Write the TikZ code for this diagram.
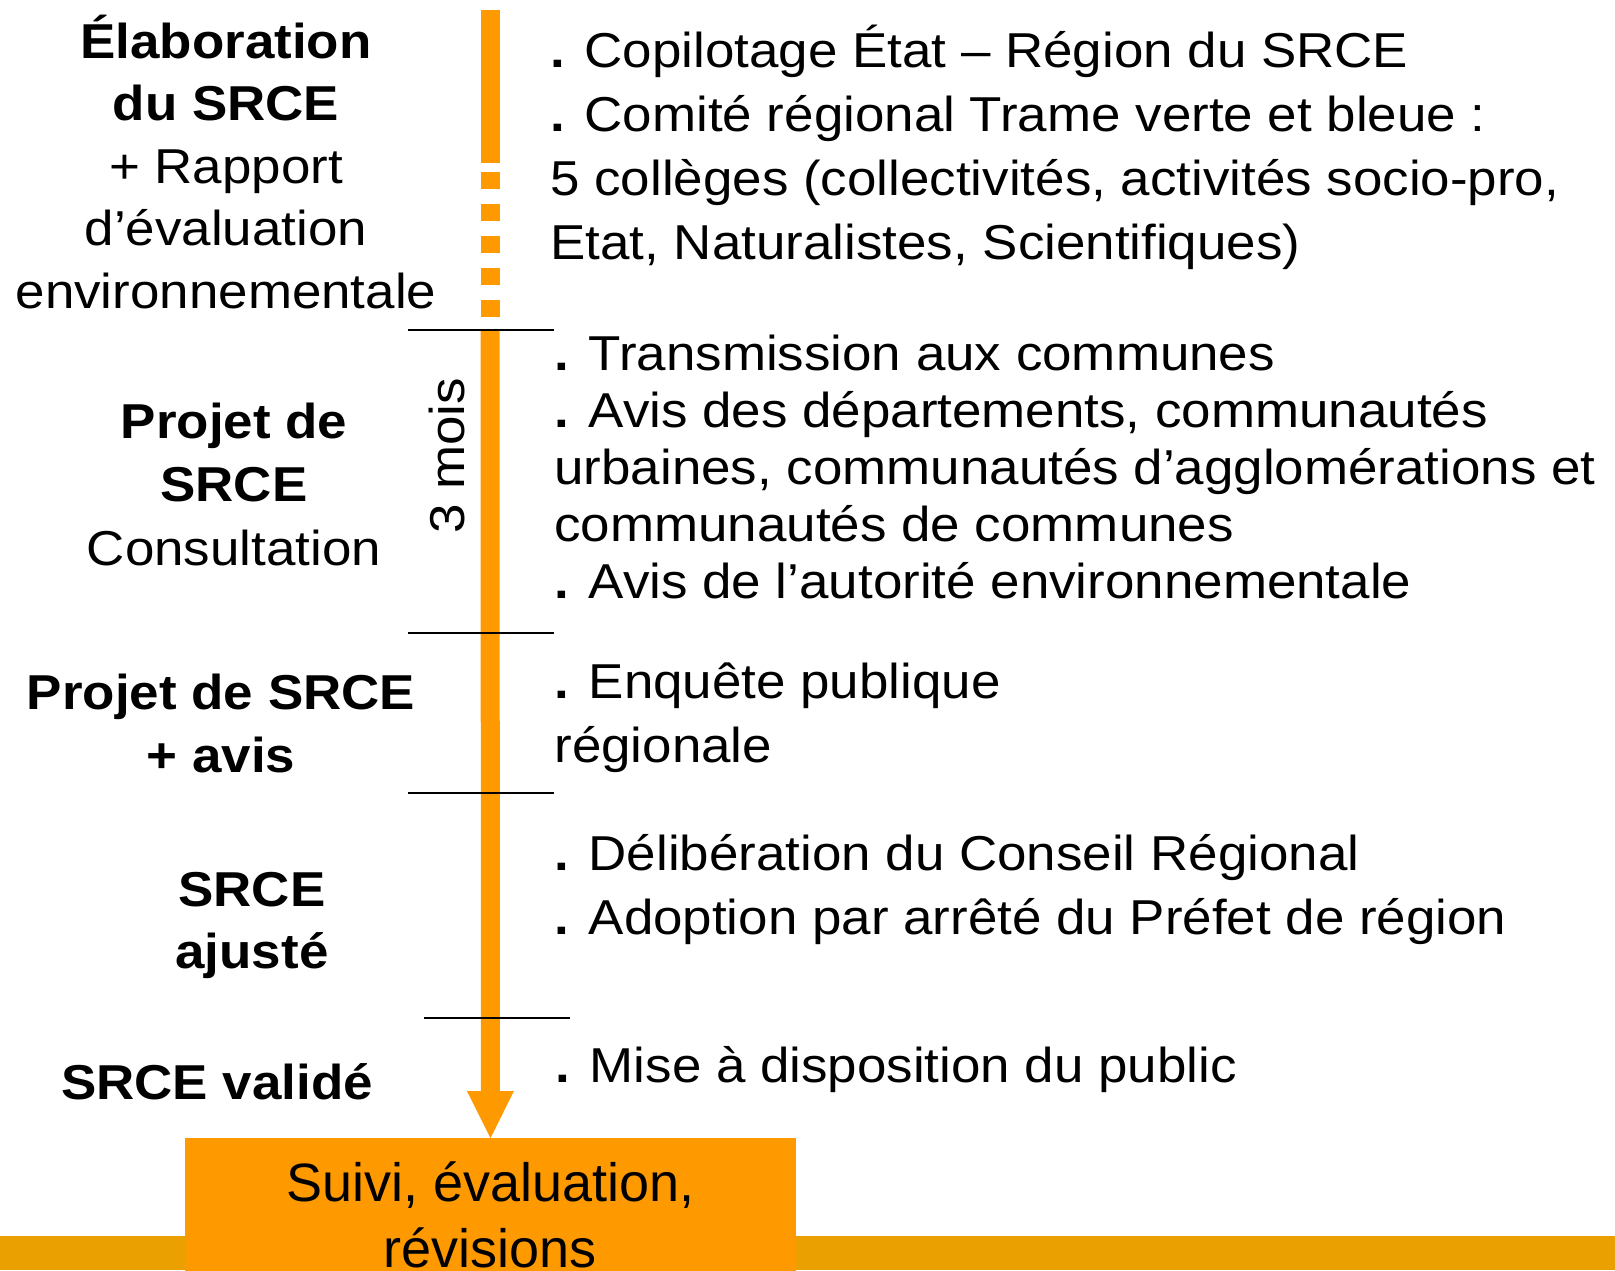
\documentclass[tikz,border=0pt]{standalone}
\usepackage{fontspec}
\setmainfont[FakeStretch=1.08]{Liberation Sans}
\newfontfamily\boxfont{Liberation Sans}
\usetikzlibrary{arrows.meta}
\definecolor{srceorange}{RGB}{255,153,0}
\definecolor{srcebar}{RGB}{234,160,0}
\newcommand\topst{\rule{0pt}{24pt}}
\newcommand\pt{\textbf{.}}
\tikzset{
  tl/.style={line width=9.5pt,srceorange},
  sepline/.style={line width=1.2pt,black},
  lbl/.style={inner sep=0pt,align=center,anchor=north},
  itm/.style={inner sep=0pt,align=left,anchor=north west}
}
\begin{document}
\begin{tikzpicture}[x=0.5pt,y=-0.5pt]
  \path[use as bounding box,clip] (0,0) rectangle (1615,1270);
  \fill[white] (0,0) rectangle (1615,1270);
  \fill[srcebar] (0,1236) rectangle (1615,1270);
  \node[fill=srceorange,anchor=north,minimum width=305.5pt,
        inner xsep=0pt,inner ysep=7.5pt,align=center,
        font=\boxfont\fontsize{27}{33}\selectfont] (box) at (490.5,1138)
    {\topst Suivi, évaluation,\\révisions};
  \draw[tl] (490,10) -- (490,163);
  \draw[tl,dash pattern=on 8.5pt off 7.5pt] (490,172) -- (490,317);
  \draw[tl,-{Triangle[length=23.5pt,width=23.5pt,line width=0pt]}] (490,331) -- (box.north);
  \draw[sepline] (408,330) -- (554,330);
  \draw[sepline] (408,633) -- (554,633);
  \draw[sepline] (408,793) -- (554,793);
  \draw[sepline] (424,1018) -- (570,1018);
  \node[inner sep=0pt,rotate=90,font=\fontsize{24.5}{29.5}\selectfont] (mois) at (447,456) {3 mois};
  \node[lbl,font=\fontsize{24.5}{31.25}\selectfont] (elab) at (226,10)
    {\topst\textbf{Élaboration}\\\textbf{du SRCE}\\+ Rapport\\d’évaluation\\environnementale};
  \node[lbl,font=\fontsize{24.5}{31.75}\selectfont] (projet) at (234,390)
    {\topst\textbf{Projet de}\\\textbf{SRCE}\\Consultation};
  \node[lbl,font=\fontsize{24.5}{31.5}\selectfont] (avis) at (221,661)
    {\topst\textbf{Projet de SRCE}\\\textbf{+ avis}};
  \node[lbl,font=\fontsize{24.5}{31}\selectfont] (ajuste) at (252,858)
    {\topst\textbf{SRCE}\\\textbf{ajusté}};
  \node[lbl,font=\fontsize{24.5}{31}\selectfont] (valide) at (217,1051)
    {\topst\textbf{SRCE validé}};
  \node[itm,font=\fontsize{24.5}{32}\selectfont] (copil) at (550,19)
    {\topst\pt{} Copilotage État – Région du SRCE\\\pt{} Comité régional Trame verte et bleue :\\5 collèges (collectivités, activités socio-pro,\\Etat, Naturalistes, Scientifiques)};
  \node[itm,font=\fontsize{24.5}{28.5}\selectfont] (consult) at (554,322)
    {\topst\pt{} Transmission aux communes\\\pt{} Avis des départements, communautés\\urbaines, communautés d’agglomérations et\\communautés de communes\\\pt{} Avis de l’autorité environnementale};
  \node[itm,font=\fontsize{24.5}{32}\selectfont] (enquete) at (554,650)
    {\topst\pt{} Enquête publique\\régionale};
  \node[itm,font=\fontsize{24.5}{32}\selectfont] (delib) at (554,822)
    {\topst\pt{} Délibération du Conseil Régional\\\pt{} Adoption par arrêté du Préfet de région};
  \node[itm,font=\fontsize{24.5}{32}\selectfont] (mise) at (555,1034)
    {\topst\pt{} Mise à disposition du public};
\end{tikzpicture}
\end{document}
